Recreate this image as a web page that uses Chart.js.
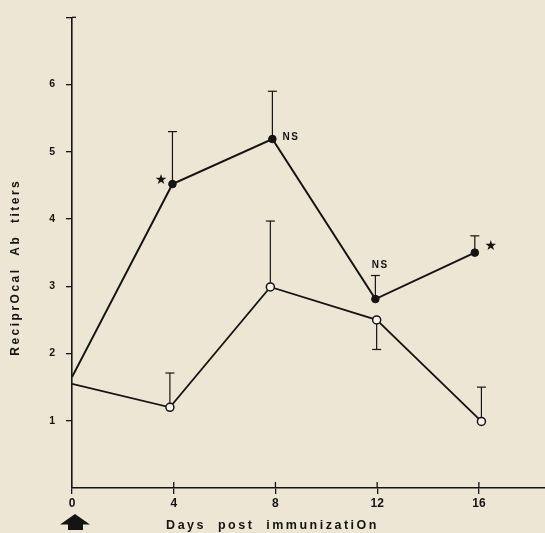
<!DOCTYPE html>
<html><head><meta charset="utf-8">
<script src="https://cdn.jsdelivr.net/npm/chart.js@4.4.0/dist/chart.umd.min.js"></script>
<style>html,body{margin:0;padding:0;background:#ede6d4;overflow:hidden}</style>
</head><body>
<canvas id="c" width="545" height="533"></canvas>
<script>
// ---- data ----
const dayTicks = [0, 4, 8, 12, 16];
const yTickLabels = [1, 2, 3, 4, 5, 6];
const filledDays = [0, 3.95, 7.88, 11.93, 15.84];
const filledTiters = [1.65, 4.52, 5.19, 2.81, 3.50];
const filledErrEnd = [null, 5.30, 5.90, 3.16, 3.75];
const openDays = [0, 3.85, 7.8, 11.98, 16.1];
const openTiters = [1.55, 1.20, 2.99, 2.50, 0.99];
const openErrEnd = [null, 1.71, 3.97, 2.06, 1.50];
const noteText = ['★', 'NS', 'NS', '★'];
const noteX = [3.50, 8.61, 12.12, 16.47];
const noteY = [4.57, 5.22, 3.31, 3.60];

const INK = '#141414';
const BG = '#ede6d4';

const pts = (xs, ys) => xs.map((x, i) => ({x, y: ys[i]}));

const extras = {
  id: 'extras',
  beforeDraw(chart) {
    const ctx = chart.ctx;
    ctx.save();
    ctx.fillStyle = BG;
    ctx.fillRect(0, 0, chart.width, chart.height);
    ctx.restore();
    ctx.letterSpacing = '2.5px';
  },
  beforeDatasetsDraw(chart) {
    const ctx = chart.ctx;
    ctx.letterSpacing = '0px';
    const xs = chart.scales.x, ys = chart.scales.y;
    ctx.save();
    ctx.strokeStyle = INK;
    ctx.lineWidth = 1.3;
    // upward halves of x ticks
    dayTicks.forEach(v => {
      if (v === 0) return;
      const px = xs.getPixelForValue(v);
      ctx.beginPath(); ctx.moveTo(px, ys.bottom); ctx.lineTo(px, ys.bottom - 6); ctx.stroke();
    });
    // right half of top y tick
    const topY = ys.getPixelForValue(7);
    ctx.beginPath(); ctx.moveTo(xs.left, topY); ctx.lineTo(xs.left + 4, topY); ctx.stroke();
    // error bars
    const drawErr = (days, vals, ends) => {
      days.forEach((d, i) => {
        if (ends[i] == null) return;
        const px = xs.getPixelForValue(d);
        const y0 = ys.getPixelForValue(vals[i]);
        const y1 = ys.getPixelForValue(ends[i]);
        ctx.lineWidth = 1.2;
        ctx.beginPath(); ctx.moveTo(px, y0); ctx.lineTo(px, y1); ctx.stroke();
        ctx.beginPath(); ctx.moveTo(px - 4.5, y1); ctx.lineTo(px + 4.5, y1); ctx.stroke();
      });
    };
    drawErr(filledDays, filledTiters, filledErrEnd);
    drawErr(openDays, openTiters, openErrEnd);
    ctx.restore();
  },
  afterDatasetsDraw(chart) {
    const ctx = chart.ctx;
    const xs = chart.scales.x, ys = chart.scales.y;
    ctx.save();
    ctx.fillStyle = INK;
    ctx.textAlign = 'center';
    ctx.textBaseline = 'middle';
    noteText.forEach((t, i) => {
      if (t === '★') { ctx.font = 'bold 14px "DejaVu Sans"'; ctx.letterSpacing = '0px'; }
      else { ctx.font = 'bold 10px "Liberation Sans"'; ctx.letterSpacing = '1.5px'; }
      ctx.fillText(t, xs.getPixelForValue(noteX[i]), ys.getPixelForValue(noteY[i]));
    });
    ctx.letterSpacing = '0px';
    // arrow under day 0
    const ax = xs.getPixelForValue(0) + 3;
    ctx.beginPath();
    ctx.moveTo(ax, 514);
    ctx.lineTo(ax + 15, 524.5);
    ctx.lineTo(ax + 8, 524.5);
    ctx.lineTo(ax + 8, 530);
    ctx.lineTo(ax - 7, 530);
    ctx.lineTo(ax - 7, 524.5);
    ctx.lineTo(ax - 15, 524.5);
    ctx.closePath();
    ctx.fill();
    ctx.restore();
  }
};

new Chart(document.getElementById('c'), {
  type: 'scatter',
  data: {
    datasets: [
      {
        label: 'filled',
        data: pts(filledDays, filledTiters),
        showLine: true,
        borderColor: INK,
        borderWidth: 2,
        pointRadius: [0, 3.8, 3.8, 3.8, 3.8],
        pointBackgroundColor: INK,
        pointBorderColor: INK,
        pointBorderWidth: 1
      },
      {
        label: 'open',
        data: pts(openDays, openTiters),
        showLine: true,
        borderColor: INK,
        borderWidth: 1.8,
        pointRadius: [0, 4, 4, 4, 4],
        pointBackgroundColor: '#f8f5ee',
        pointBorderColor: INK,
        pointBorderWidth: 1.5
      }
    ]
  },
  options: {
    responsive: false,
    devicePixelRatio: 1,
    animation: false,
    layout: {autoPadding: false, padding: {top: 15, left: 0, right: 0, bottom: 0}},
    plugins: {
      legend: {display: false},
      tooltip: {enabled: false},
      title: {
        display: true,
        position: 'bottom',
        text: 'Days  post  immunizatiOn',
        color: INK,
        font: {family: 'Liberation Sans', weight: 'bold', size: 12.5},
        padding: {top: 1, bottom: 0}
      }
    },
    scales: {
      x: {
        type: 'linear',
        position: 'bottom',
        min: 0,
        max: 18.6,
        afterBuildTicks: s => { s.ticks = dayTicks.map(v => ({value: v})); },
        afterFit: s => { s.height = 29; },
        ticks: {
          z: 1,
          color: INK,
          font: {family: 'Liberation Sans', weight: 'bold', size: 12},
          padding: 2,
          maxRotation: 0,
          callback: v => String(v)
        },
        grid: {drawOnChartArea: false, drawTicks: true, tickLength: 6, color: INK, lineWidth: 1.3},
        border: {color: INK, width: 1.6}
      },
      y: {
        min: 0,
        max: 7,
        afterBuildTicks: s => { s.ticks = [...yTickLabels, 7].map(v => ({value: v})); },
        afterFit: s => { s.width = 72; },
        ticks: {
          z: 1,
          color: INK,
          font: {family: 'Liberation Sans', weight: 'bold', size: 10.5},
          padding: 11,
          callback: v => yTickLabels.includes(v) ? String(v) : ''
        },
        grid: {drawOnChartArea: false, drawTicks: true, tickLength: 6, color: INK, lineWidth: 1.3},
        border: {color: INK, width: 1.6},
        title: {
          display: true,
          text: 'ReciprOcal  Ab  titers     ',
          color: INK,
          font: {family: 'Liberation Sans', weight: 'bold', size: 12},
          padding: {top: 8, bottom: 0}
        }
      }
    }
  },
  plugins: [extras]
});
</script>
</body></html>
